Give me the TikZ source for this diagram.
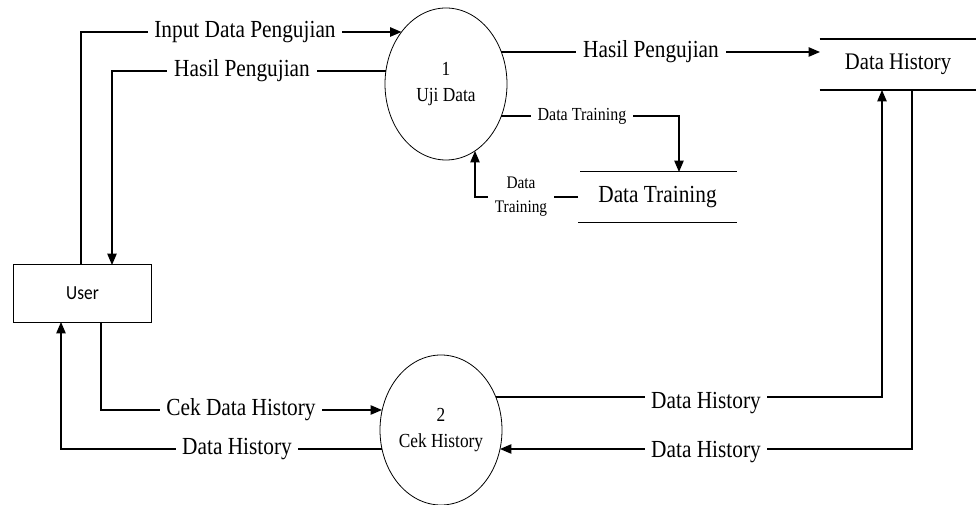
\documentclass[tikz,border=0pt]{standalone}
\usepackage{graphicx}
\usepackage{fontspec}
\setmainfont{Liberation Serif}
\newfontfamily\carlito{Carlito}
\usetikzlibrary{shapes.geometric,arrows.meta}
\newcommand\tallt[1]{\scalebox{1}[1.15]{#1}}
\begin{document}
\begin{tikzpicture}[x=0.75pt,y=-0.75pt,
  flow/.style={line width=1pt,-{Triangle[length=8.5pt,width=7pt]}},
  proc/.style={ellipse,draw,line width=0.6pt,minimum width=91.5pt,minimum height=114pt,inner sep=0pt,align=center,font=\fontsize{13}{17}\selectfont},
  lbl/.style={fill=white,inner xsep=5pt,inner ysep=1pt,font=\fontsize{16}{19}\selectfont},
  slbl/.style={fill=white,inner xsep=5pt,inner ysep=1pt,font=\fontsize{12}{14}\selectfont,align=center},
  store/.style={minimum height=38pt,inner sep=0pt},
  entity/.style={draw,line width=0.7pt,minimum width=104pt,minimum height=43pt,inner sep=0pt,font=\carlito\fontsize{13}{15}\selectfont}]
\useasboundingbox (0,0) rectangle (976,505);

% processes
\node[proc] (p1) at (446,84) {\tallt{1}\\[2pt]\tallt{Uji Data}};
\node[proc,minimum height=112.5pt] (p2) at (441,430) {\tallt{2}\\[3pt]\tallt{Cek History}};

% entity
\node[entity] (user) at (82.5,293.5) {\tallt{User}};

% data stores
\node[store,minimum width=117pt,font=\fontsize{15.5}{18}\selectfont] (dh) at (898,64.5) {\tallt{Data History}};
\draw[line width=1pt] (dh.north west) -- (dh.north east);
\draw[line width=1pt] (dh.south west) -- (dh.south east);
\node[store,minimum width=118.5pt,minimum height=37.5pt,font=\fontsize{16}{19}\selectfont] (dt) at (657.5,197) {\tallt{Data Training}};
\draw[line width=1pt] ([xshift=1.5pt]dt.north west) -- (dt.north east);
\draw[line width=1pt] (dt.south west) -- (dt.south east);

% connector endpoints
\coordinate (uIn) at (81,265);
\coordinate (uOut) at (112,265);
\coordinate (uCek) at (101,322);
\coordinate (uHist) at (61,322);
\coordinate (p1a) at (401.5,32);
\coordinate (p1b) at (386,71);
\coordinate (p1c) at (501,52);
\coordinate (p1d) at (501,116);
\coordinate (p1e) at (475,151);
\coordinate (p2a) at (382,410);
\coordinate (p2b) at (382,449);
\coordinate (p2c) at (496,397);
\coordinate (p2d) at (500,449);
\coordinate (dhIn) at (882,90);
\coordinate (dhOut) at (912,90);
\coordinate (dhW) at (820,52);
\coordinate (dtN) at (679,172);
\coordinate (dtW) at (578,197);

% flows
\draw[flow] (uIn) |- (p1a);
\draw[flow] (p1b) -| (uOut);
\draw[flow] (p1c) -- (dhW);
\draw[flow] (p1d) -| (dtN);
\draw[flow] (dtW) -| (p1e);
\draw[flow] (uCek) |- (p2a);
\draw[flow] (p2b) -| (uHist);
\draw[flow] (p2c) -| (dhIn);
\draw[flow] (dhOut) |- (p2d);

% labels
\node[lbl] (l1) at (245,32) {\tallt{Input Data Pengujian}};
\node[lbl] (l2) at (242,71) {\tallt{Hasil Pengujian}};
\node[lbl] (l3) at (651,52) {\tallt{Hasil Pengujian}};
\node[slbl] (l4) at (582,116) {\tallt{Data Training}};
\node[slbl,font=\fontsize{11.5}{18}\selectfont] (l5) at (521,197) {\tallt{Data}\\\tallt{Training}};
\node[lbl] (l6) at (241,410) {\tallt{Cek Data History}};
\node[lbl] (l7) at (237,449) {\tallt{Data History}};
\node[lbl] (l8) at (706,403) {\tallt{Data History}};
\node[lbl] (l9) at (706,452) {\tallt{Data History}};
\end{tikzpicture}
\end{document}
